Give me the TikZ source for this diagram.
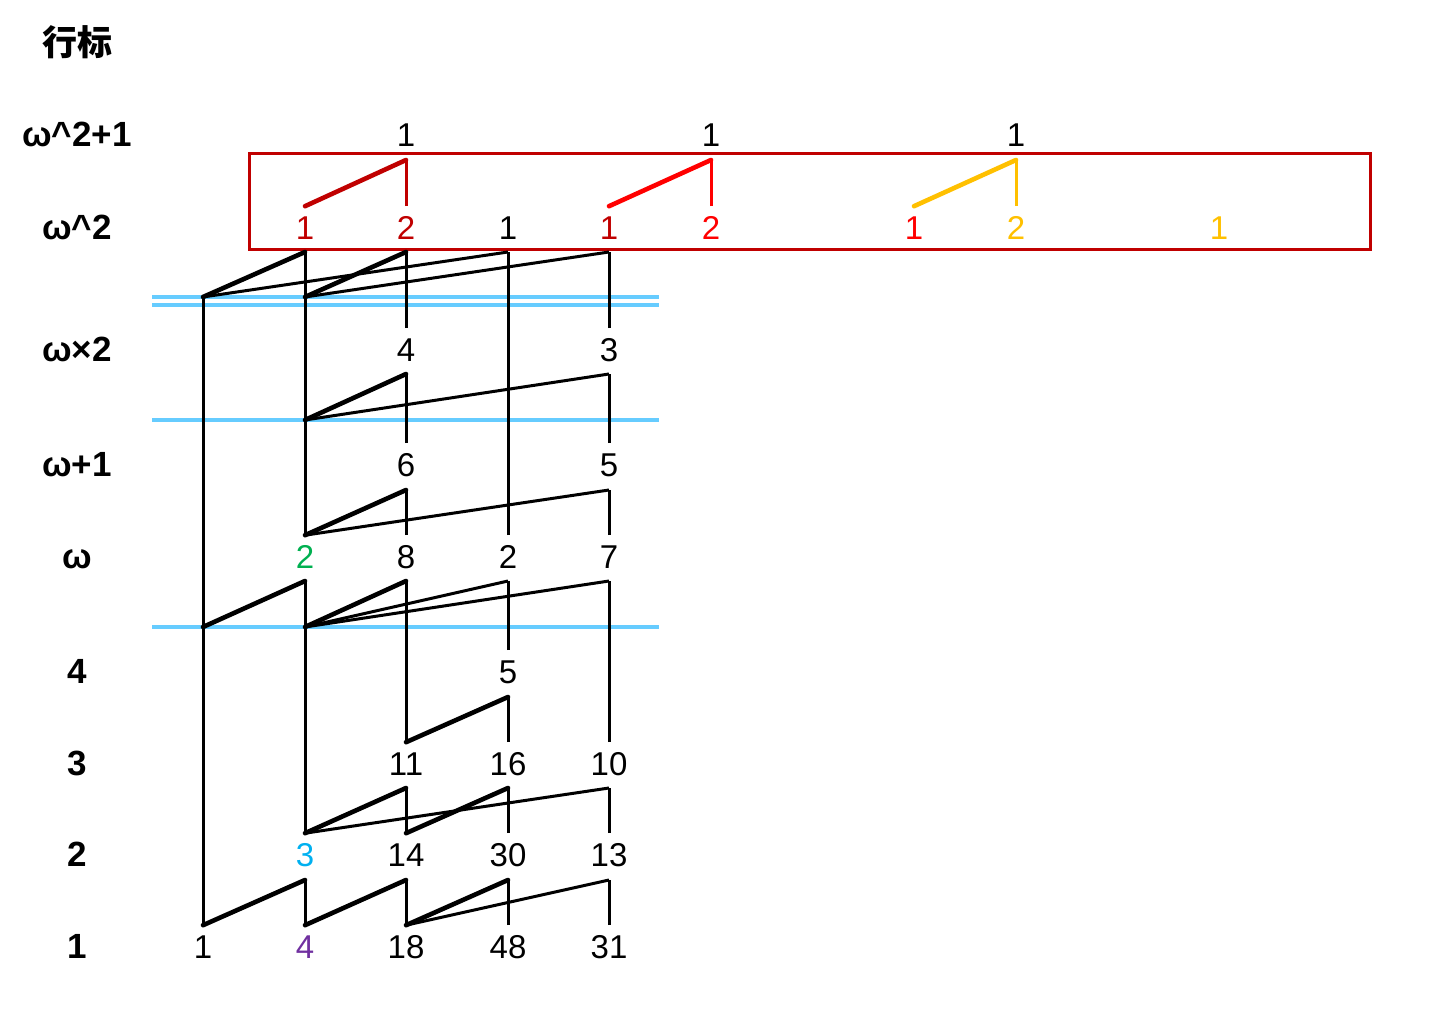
\documentclass[tikz,border=0pt]{standalone}
\usepackage{fontspec}
\setmainfont{Liberation Sans}
\newfontfamily\cjk{Noto Sans CJK SC}
\definecolor{boxred}{HTML}{C00000}
\definecolor{linkred}{HTML}{FF0000}
\definecolor{amber}{HTML}{FFC000}
\definecolor{leafgreen}{HTML}{00B050}
\definecolor{skyblue}{HTML}{00B0F0}
\definecolor{rowviolet}{HTML}{7030A0}
\definecolor{cutblue}{HTML}{66CCFF}
\tikzstyle{num}        = [inner sep=0pt, outer sep=5pt, text height=11.8pt, text depth=0pt,
                          font=\fontsize{16.5}{19}\selectfont]
\tikzstyle{row label}  = [num, font=\fontsize{17.5}{20}\selectfont\bfseries]
\tikzstyle{stem}       = [line width=1.5pt]
\tikzstyle{short link} = [line width=2.3pt, line cap=round]
\tikzstyle{long link}  = [line width=1.5pt]
\tikzstyle{cut}        = [draw=cutblue, line width=1.8pt]

\begin{document}
\begin{tikzpicture}[x=0.5pt, y=-0.5pt]
\useasboundingbox (0,0) rectangle (1440,1021);

    % row labels
    \node(hdr)[row label] at (77,44)  {\cjk 行标};
    \node(Lww1)[row label] at (77,135) {ω\textasciicircum 2+1};
    \node(Lww)[row label]  at (77,228) {ω\textasciicircum 2};
    \node(Lw2)[row label]  at (77,350) {ω×2};
    \node(Lw1)[row label]  at (77,465) {ω+1};
    \node(Lw)[row label]   at (77,557) {ω};
    \node(L4)[row label]   at (77,672) {4};
    \node(L3)[row label]   at (77,764) {3};
    \node(L2)[row label]   at (77,855) {2};
    \node(L1)[row label]   at (77,947) {1};

    % cut lines
    \draw[cut] (152,297) -- (659,297);
    \draw[cut] (152,305) -- (659,305);
    \draw[cut] (152,420) -- (659,420);
    \draw[cut] (152,627) -- (659,627);

    % the omega^2 box
    \draw[boxred, line width=1.5pt] (249,154) rectangle (1370,250);

    % omega^2+1
    \node(Ct)[num] at (406,135)  {1};
    \node(Ft)[num] at (711,135)  {1};
    \node(Ht)[num] at (1016,135) {1};
    % omega^2
    \node(Bs)[num, text=boxred]  at (305,228)  {1};
    \node(Cs)[num, text=boxred]  at (406,228)  {2};
    \node(Ds)[num]               at (508,228)  {1};
    \node(Es)[num, text=boxred]  at (609,228)  {1};
    \node(Fs)[num, text=linkred] at (711,228)  {2};
    \node(Gs)[num, text=linkred] at (914,228)  {1};
    \node(Hs)[num, text=amber]   at (1016,228) {2};
    \node(Js)[num, text=amber]   at (1219,228) {1};
    % omega x 2
    \node(Cw2)[num] at (406,350) {4};
    \node(Ew2)[num] at (609,350) {3};
    % omega+1
    \node(Cw1)[num] at (406,465) {6};
    \node(Ew1)[num] at (609,465) {5};
    % omega
    \node(Bw)[num, text=leafgreen] at (305,557) {2};
    \node(Cw)[num] at (406,557) {8};
    \node(Dw)[num] at (508,557) {2};
    \node(Ew)[num] at (609,557) {7};
    % 4
    \node(D4)[num] at (508,672) {5};
    % 3
    \node(C3)[num] at (406,764) {11};
    \node(D3)[num] at (508,764) {16};
    \node(E3)[num] at (609,764) {10};
    % 2
    \node(B2)[num, text=skyblue] at (305,855) {3};
    \node(C2)[num] at (406,855) {14};
    \node(D2)[num] at (508,855) {30};
    \node(E2)[num] at (609,855) {13};
    % 1
    \node(A1)[num] at (203,947) {1};
    \node(B1)[num, text=rowviolet] at (305,947) {4};
    \node(C1)[num] at (406,947) {18};
    \node(D1)[num] at (508,947) {48};
    \node(E1)[num] at (609,947) {31};

    % tops of the stems
    \coordinate(Cstop) at (406,160);
    \coordinate(Fstop) at (711,160);
    \coordinate(Hstop) at (1016,160);
    \coordinate(Bwtop) at (305,252);
    \coordinate(Dwtop) at (508,252);
    \coordinate(Cw2top) at (406,252);
    \coordinate(Ew2top) at (609,252);
    \coordinate(Cw1top) at (406,374);
    \coordinate(Ew1top) at (609,374);
    \coordinate(Cwtop) at (406,490);
    \coordinate(Ewtop) at (609,490);
    \coordinate(B2top) at (305,581);
    \coordinate(C3top) at (406,581);
    \coordinate(D4top) at (508,581);
    \coordinate(E3top) at (609,581);
    \coordinate(D3top) at (508,697);
    \coordinate(C2top) at (406,788);
    \coordinate(D2top) at (508,788);
    \coordinate(E2top) at (609,788);
    \coordinate(B1top) at (305,880);
    \coordinate(C1top) at (406,880);
    \coordinate(D1top) at (508,880);
    \coordinate(E1top) at (609,880);
    % where links leave a stem
    \coordinate(Ahi)  at (203,297);
    \coordinate(Bhi)  at (305,297);
    \coordinate(Bmid) at (305,420);
    \coordinate(Acut) at (203,627);
    \coordinate(Bcut) at (305,627);

    % inside the box
    \draw[short link, boxred]  (Bs.north) -- (Cstop);
    \draw[stem, boxred]        (Cs.north) -- (Cstop);
    \draw[short link, linkred] (Es.north) -- (Fstop);
    \draw[stem, linkred]       (Fs.north) -- (Fstop);
    \draw[short link, amber]   (Gs.north) -- (Hstop);
    \draw[stem, amber]         (Hs.north) -- (Hstop);

    % stems
    \draw[stem] (A1.north) -- (Ahi);
    \draw[stem] (B1.north) -- (B1top);
    \draw[stem] (B2.north) -- (B2top);
    \draw[stem] (Bw.north) -- (Bwtop);
    \draw[stem] (C1.north) -- (C1top);
    \draw[stem] (C2.north) -- (C2top);
    \draw[stem] (C3.north) -- (C3top);
    \draw[stem] (Cw.north) -- (Cwtop);
    \draw[stem] (Cw1.north) -- (Cw1top);
    \draw[stem] (Cw2.north) -- (Cw2top);
    \draw[stem] (D1.north) -- (D1top);
    \draw[stem] (D2.north) -- (D2top);
    \draw[stem] (D3.north) -- (D3top);
    \draw[stem] (D4.north) -- (D4top);
    \draw[stem] (Dw.north) -- (Dwtop);
    \draw[stem] (E1.north) -- (E1top);
    \draw[stem] (E2.north) -- (E2top);
    \draw[stem] (E3.north) -- (E3top);
    \draw[stem] (Ew.north) -- (Ewtop);
    \draw[stem] (Ew1.north) -- (Ew1top);
    \draw[stem] (Ew2.north) -- (Ew2top);

    % links, below the double cut
    \draw[short link] (Ahi) -- (Bwtop);
    \draw[long link]  (Ahi) -- (Dwtop);
    \draw[short link] (Bhi) -- (Cw2top);
    \draw[long link]  (Bhi) -- (Ew2top);
    % omega+1
    \draw[short link] (Bmid) -- (Cw1top);
    \draw[long link]  (Bmid) -- (Ew1top);
    % omega
    \draw[short link] (Bw.north) -- (Cwtop);
    \draw[long link]  (Bw.north) -- (Ewtop);
    % under the lower cut
    \draw[short link] (Acut) -- (B2top);
    \draw[short link] (Bcut) -- (C3top);
    \draw[long link]  (Bcut) -- (D4top);
    \draw[long link]  (Bcut) -- (E3top);
    \draw[short link] (C3.north) -- (D3top);
    % row 2
    \draw[short link] (B2.north) -- (C2top);
    \draw[long link]  (B2.north) -- (E2top);
    \draw[short link] (C2.north) -- (D2top);
    % row 1
    \draw[short link] (A1.north) -- (B1top);
    \draw[short link] (B1.north) -- (C1top);
    \draw[short link] (C1.north) -- (D1top);
    \draw[long link]  (C1.north) -- (E1top);

\end{tikzpicture}
\end{document}
